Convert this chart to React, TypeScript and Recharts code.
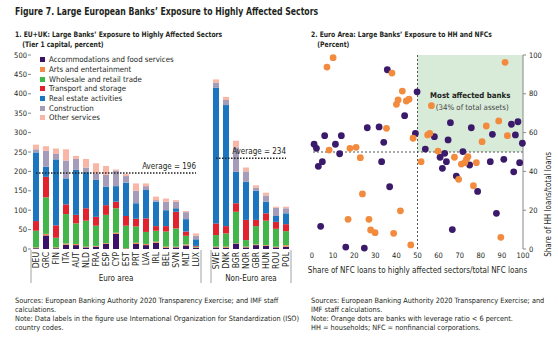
import React from 'react'
import {
  BarChart,
  Bar,
  XAxis,
  YAxis,
  Legend,
  ReferenceLine,
  ReferenceArea,
  ScatterChart,
  Scatter,
} from 'recharts'

const FONT = '"Liberation Sans Narrow", "DejaVu Sans Condensed", "Liberation Sans", Arial, sans-serif'
const INK = '#231f20'

// Panel 1: exposure by sector, Tier 1 capital percent ('' is the gap between groups)
const countries = [
  'DEU', 'GRC', 'FIN', 'ITA', 'AUT', 'NLD', 'FRA', 'ESP', 'CYP', 'EST', 'PRT', 'LVA', 'IRL', 'BEL', 'SVN', 'MLT', 'LUX',
  '',
  'SWE', 'DNK', 'BGR', 'NOR', 'GBR', 'HUN', 'ROU', 'POL',
]
const accommodation = [2, 35, 2, 11, 10, 4, 6, 13, 39, 1, 13, 10, 16, 3, 4, 9, 3, null, 4, 3, 14, 4, 10, 8, 4, 6]
const arts = [2, 4, 2, 3, 3, 2, 2, 2, 3, 1, 3, 3, 3, 3, 2, 3, 1, null, 2, 3, 1, 2, 2, 2, 2, 4]
const wholesale = [43, 94, 25, 76, 53, 67, 52, 73, 63, 58, 42, 31, 28, 39, 47, 22, 2, null, 30, 34, 81, 17, 47, 63, 46, 36]
const transport = [25, 53, 32, 25, 22, 32, 23, 25, 17, 25, 20, 35, 12, 14, 43, 11, 2, null, 30, 19, 22, 52, 16, 19, 18, 18]
const realEstate = [177, 26, 170, 67, 116, 93, 95, 48, 40, 86, 40, 73, 63, 41, 9, 32, 17, null, 350, 312, 81, 98, 75, 30, 15, 28]
const construction = [8, 41, 14, 46, 28, 12, 17, 30, 40, 17, 32, 10, 4, 22, 17, 18, 9, null, 13, 13, 63, 27, 8, 16, 21, 13]
const otherServices = [12, 12, 14, 29, 8, 22, 26, 23, 3, 5, 19, 7, 9, 8, 4, 3, 6, null, 8, 8, 17, 10, 6, 7, 3, 4]
const barTicks = [0, 50, 100, 150, 200, 250, 300, 350, 400, 450, 500]
const euroAverage = 196
const nonEuroAverage = 234

const sectors = [
  { key: 'accommodation', name: 'Accommodations and food services', color: '#3b1268' },
  { key: 'arts', name: 'Arts and entertainment', color: '#f48b4a' },
  { key: 'wholesale', name: 'Wholesale and retail trade', color: '#43b649' },
  { key: 'transport', name: 'Transport and storage', color: '#e2232e' },
  { key: 'realEstate', name: 'Real estate activities', color: '#1c76bf' },
  { key: 'construction', name: 'Construction', color: '#a49cb8' },
  { key: 'other', name: 'Other services', color: '#f9b6a5' },
]

const barRows = countries.map((name, i) => ({
  name,
  accommodation: accommodation[i],
  arts: arts[i],
  wholesale: wholesale[i],
  transport: transport[i],
  realEstate: realEstate[i],
  construction: construction[i],
  other: otherServices[i],
}))

// Panel 2: banks, x = NFC loans to affected sectors share, y = HH loans share
const banksX = [35.7, 49.8, 43.9, 26.2, 31.8, 34, 49, 6, 13.9, 1, 2.1, 11.1, 13.1, 4.9, 3, 33, 36.8, 4.1, 16, 24.8, 66.5, 87.4, 78.5, 68.4, 61.8, 60.7, 63.7, 74.7, 84.5, 90.9, 95.6, 98.4, 53.7, 65.6, 75.5, 94.5, 97.6, 85.5, 96.4, 99.7, 58, 64.5, 62.9, 71.5]
const banksY = [92.4, 81, 68.7, 62.5, 62.9, 55, 59.6, 58.4, 58.4, 54, 51.9, 54, 49.1, 45, 42.6, 45, 32.1, 11.7, 1, 0.5, 10, 18.4, 29.7, 37.6, 41.6, 47.3, 45, 43.3, 45, 46.2, 39.8, 44.5, 51.5, 65.1, 62.5, 64.3, 65.6, 59.1, 58.8, 54.5, 57.9, 56.2, 49.3, 50.2]
const lowLeverageX = [10, 7.1, 37.9, 42.8, 40.8, 40, 44.7, 46, 35.3, 47.9, 8.1, 18, 20.9, 22.9, 23.9, 41.9, 17.1, 27, 27.8, 29.9, 38.7, 46.8, 89.5, 76.5, 69.5, 51.7, 67.5, 70.8, 72.4, 73.2, 73.9, 77.9, 91.5, 56.6, 82.6, 88.5, 80.6, 92.6, 54.8, 55.8, 59.7]
const lowLeverageY = [98.6, 93.8, 90.7, 81.4, 76.8, 74.6, 76.3, 77.2, 62.2, 57.1, 51, 51.9, 52.4, 47.1, 28.4, 19.7, 15.3, 15.3, 9.8, 8.4, 8.1, 2.1, 6, 32.6, 35.9, 45, 47.3, 43.8, 44.5, 46.2, 47.6, 44.5, 96.2, 73.9, 63.4, 66, 55.3, 58.4, 58.8, 59.6, 50.5]
const scatterXTicks = [0, 10, 20, 30, 40, 50, 60, 70, 80, 90, 100]
const scatterYTicks = [0, 20, 40, 60, 80, 100]
const minorTicks = [10, 20, 30, 40, 50, 60, 70, 80, 90, 100]

const bankPoints = banksX.map((x, i) => ({ x, y: banksY[i] }))
const lowLeveragePoints = lowLeverageX.map((x, i) => ({ x, y: lowLeverageY[i] }))

const tickFont = { fontSize: 7.5, fill: INK, fontFamily: FONT }

function CountryTick({ x, y, payload, index }: any) {
  const code = payload.value
  const line = (lx: number) => <line x1={lx} x2={lx} y1={y + 1} y2={y + 34} stroke="#8a8a8a" strokeWidth={0.8} />
  return (
    <g>
      {code && (
        <text
          x={x}
          y={y + 3}
          transform={`rotate(-90 ${x} ${y + 3})`}
          textAnchor="end"
          dominantBaseline="central"
          {...tickFont}
          fontSize={8.5}
        >
          {code}
        </text>
      )}
      {index === 0 && line(x - 5)}
      {index === 16 && line(x + 5)}
      {index === 18 && line(x - 5)}
      {index === 25 && line(x + 5)}
      {index === 8 && (
        <text x={x} y={y + 32} textAnchor="middle" {...tickFont} fontSize={8}>Euro area</text>
      )}
      {index === 21 && (
        <text x={x + 5} y={y + 32} textAnchor="middle" {...tickFont} fontSize={8}>Non-Euro area</text>
      )}
    </g>
  )
}

// legend keeps the figure's own order (bottom of the stack first)
function SectorLegend() {
  return (
    <div style={{ fontFamily: FONT, fontSize: 7.8, color: INK }}>
      {sectors.map((s) => (
        <div key={s.key} style={{ display: 'flex', alignItems: 'center', height: 9.7, whiteSpace: 'nowrap' }}>
          <span style={{ width: 5, height: 5, background: s.color, marginRight: 4, flex: 'none' }} />
          {s.name}
        </div>
      ))}
    </div>
  )
}

const averageLabel = (text: string) => (props: any) => {
  const { x, y, width } = props.viewBox
  return (
    <text x={x + width} y={y - 4} textAnchor="end" {...tickFont} fontSize={8}>
      {text}
    </text>
  )
}

function AffectedLabel(props: any) {
  const { x, y, width, height } = props.viewBox
  const cx = x + width / 2
  const cy = y + height / 2
  return (
    <g fontFamily={FONT} fontSize={7.8}>
      <text x={cx} y={cy - 6} textAnchor="middle" fontWeight="bold" fill={INK}>Most affected banks</text>
      <text x={cx + 2} y={cy + 6} textAnchor="middle" fill="#444">(34% of total assets)</text>
    </g>
  )
}

const dot = (color: string) => (props: any) => <circle cx={props.cx} cy={props.cy} r={3.4} fill={color} />
const EmptyTick = () => <g />

const text = (style: React.CSSProperties): React.CSSProperties => ({
  position: 'absolute',
  fontFamily: FONT,
  color: INK,
  whiteSpace: 'nowrap',
  ...style,
})

export default function App() {
  return (
    <div style={{ position: 'absolute', left: 0, top: 0, width: 558, height: 344, background: '#fff', overflow: 'hidden' }}>
      <div style={text({ left: 15, top: 5, fontSize: 10.5, fontWeight: 'bold', transform: 'scaleX(0.82)', transformOrigin: 'left top' })}>
        Figure 7. Large European Banks’ Exposure to Highly Affected Sectors
      </div>
      <div style={text({ left: 15, top: 30, fontSize: 7.5, fontWeight: 'bold', lineHeight: '10px', transform: 'scaleX(0.9)', transformOrigin: 'left top' })}>
        1. EU+UK: Large Banks’ Exposure to Highly Affected Sectors
        <div style={{ paddingLeft: 8 }}>(Tier 1 capital, percent)</div>
      </div>
      <div style={text({ left: 311, top: 30, fontSize: 7.5, fontWeight: 'bold', lineHeight: '10px', transform: 'scaleX(0.9)', transformOrigin: 'left top' })}>
        2. Euro Area: Large Banks’ Exposure to HH and NFCs
        <div style={{ paddingLeft: 7 }}>(Percent)</div>
      </div>

      <div style={{ position: 'absolute', left: 0, top: 0 }}>
        <BarChart width={300} height={300} data={barRows} margin={{ top: 55, right: 9, bottom: 11, left: 0 }} barSize={6}>
          <XAxis dataKey="name" interval={0} height={40} axisLine={false} tickLine={false} tickSize={0} tickMargin={0} tick={<CountryTick />} />
          <YAxis
            width={31}
            domain={[0, 500]}
            ticks={barTicks}
            interval={0}
            axisLine={false}
            tickSize={3}
            tickMargin={1}
            tickLine={{ stroke: '#888' }}
            tick={tickFont}
          />
          <Legend layout="vertical" align="center" verticalAlign="middle" wrapperStyle={{ left: 40, top: 55, width: 150 }} content={<SectorLegend />} />
          {sectors.map((s) => (
            <Bar key={s.key} dataKey={s.key} name={s.name} stackId="a" fill={s.color} isAnimationActive={false} />
          ))}
          <ReferenceLine
            segment={[{ x: 'DEU', y: euroAverage }, { x: 'LUX', y: euroAverage }]}
            stroke="#222"
            strokeWidth={1.5}
            strokeDasharray="1.5 1.5"
            label={averageLabel(`Average = ${euroAverage}`)}
          />
          <ReferenceLine
            segment={[{ x: 'SWE', y: nonEuroAverage }, { x: 'POL', y: nonEuroAverage }]}
            stroke="#222"
            strokeWidth={1.5}
            strokeDasharray="1.5 1.5"
            label={averageLabel(`Average = ${nonEuroAverage}`)}
          />
        </BarChart>
      </div>

      <div style={{ position: 'absolute', left: 280, top: 0 }}>
        <ScatterChart width={278} height={300} margin={{ top: 55, right: 5, bottom: 27, left: 0 }}>
          <XAxis
            type="number"
            dataKey="x"
            domain={[0, 100]}
            ticks={scatterXTicks}
            interval={0}
            height={24}
            axisLine={false}
            tickLine={false}
            tickSize={0}
            tickMargin={4}
            tick={tickFont}
            label={{ value: 'Share of NFC loans to highly affected sectors/total NFC loans', position: 'insideBottom', offset: 0, ...tickFont, fontSize: 8 }}
          />
          <YAxis
            yAxisId="hh"
            orientation="right"
            type="number"
            dataKey="y"
            domain={[0, 100]}
            ticks={scatterYTicks}
            interval={0}
            width={30}
            axisLine={{ stroke: '#888' }}
            tickLine={{ stroke: '#888' }}
            tickSize={3}
            tickMargin={3}
            tick={tickFont}
            label={{ value: 'Share of HH loans/total loans', angle: -90, position: 'insideRight', offset: 5, ...tickFont, fontSize: 8 }}
          />
          <YAxis yAxisId="m1" orientation="left" type="number" domain={[0, 100]} ticks={minorTicks} interval={0} width={20} axisLine={false} tickSize={2} tickLine={{ stroke: '#aaa' }} tick={EmptyTick} />
          <YAxis yAxisId="m2" orientation="left" type="number" domain={[0, 100]} ticks={minorTicks} interval={0} width={12} axisLine={false} tickSize={2} tickLine={{ stroke: '#aaa' }} tick={EmptyTick} />
          <ReferenceArea yAxisId="hh" x1={50} x2={100} y1={50} y2={100} fill="#d8ebd9" fillOpacity={1} stroke="none" label={AffectedLabel} />
          <ReferenceLine yAxisId="hh" x={50} stroke="#555" strokeDasharray="2 2" />
          <ReferenceLine yAxisId="hh" y={50} stroke="#555" strokeDasharray="2 2" />
          <Scatter yAxisId="hh" data={bankPoints} fill="#3b1a6b" shape={dot('#3b1a6b')} isAnimationActive={false} />
          <Scatter yAxisId="hh" data={lowLeveragePoints} fill="#f28b3e" shape={dot('#f28b3e')} isAnimationActive={false} />
        </ScatterChart>
      </div>

      <div style={text({ left: 15, top: 295.5, fontSize: 7.3, lineHeight: '9px' })}>
        <div>Sources: European Banking Authority 2020 Transparency Exercise; and IMF staff</div>
        <div>calculations.</div>
        <div>Note: Data labels in the figure use International Organization for Standardization (ISO)</div>
        <div>country codes.</div>
      </div>
      <div style={text({ left: 311, top: 295.5, fontSize: 7.3, lineHeight: '9px' })}>
        <div>Sources: European Banking Authority 2020 Transparency Exercise; and</div>
        <div>IMF staff calculations.</div>
        <div>Note: Orange dots are banks with leverage ratio &lt; 6 percent.</div>
        <div>HH = households; NFC = nonfinancial corporations.</div>
      </div>
    </div>
  )
}
